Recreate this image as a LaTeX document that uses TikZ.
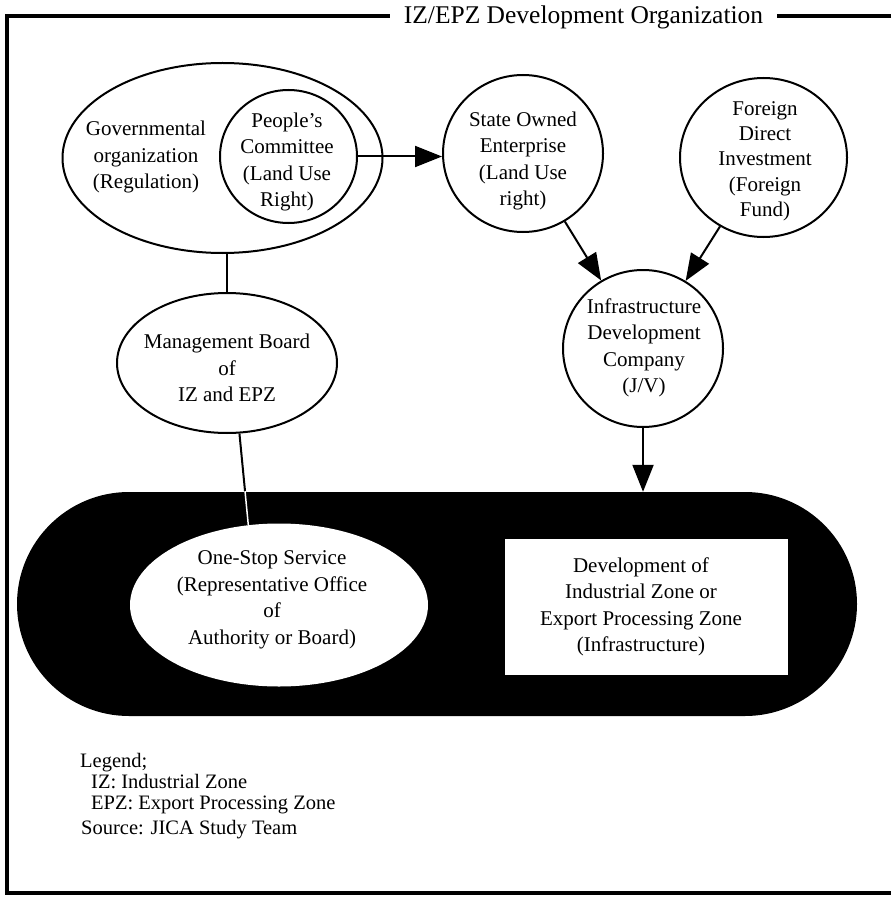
\documentclass[tikz,border=0pt]{standalone}
\usepackage{fontspec}
\setmainfont{Liberation Serif}
\usetikzlibrary{shapes.geometric,shapes.misc,arrows.meta,calc}
\pgfdeclarelayer{bg}
\pgfsetlayers{bg,main}
\begin{document}
\begin{tikzpicture}[x=1pt,y=-1pt,
  bubble/.style={draw, line width=2pt, ellipse, inner sep=0pt},
  txt/.style={align=center, inner sep=0pt, font=\fontsize{21}{26.5}\selectfont},
  legendtxt/.style={anchor=base west, inner sep=0pt, font=\fontsize{20.5}{24}\selectfont},
  arr/.style={line width=2pt, -{Triangle[length=27pt,width=21pt]}},
  conn/.style={line width=2pt}
]
\useasboundingbox (0,0) rectangle (891,901);

% frame
\draw[line width=4.5pt] (891,16) -- (7,16) -- (7,893) -- (891,893);
\node[fill=white, inner xsep=14pt, inner ysep=3pt, anchor=base,
      font=\fontsize{25.5}{30}\selectfont] (title) at (583.5,24) {IZ/EPZ Development Organization};

% top row
\node[bubble, minimum width=320pt, minimum height=190pt] (gov) at (222.5,158) {};
\node[txt] (govt) at (146,157) {Governmental\\organization\\(Regulation)};
\node[bubble, minimum width=137pt, minimum height=133pt] (pc) at (288.5,156.5) {};
\node[txt] (pct) at (287,162) {People's\\Committee\\(Land Use\\Right)};
\node[bubble, minimum width=160pt, minimum height=157pt] (soe) at (523,153.5) {};
\node[txt] (soet) at (523,161) {State Owned\\Enterprise\\(Land Use\\right)};
\node[bubble, minimum width=167pt, minimum height=159pt] (fdi) at (763.5,157.5) {};
\node[txt, font=\fontsize{21}{25.3}\selectfont] (fdit) at (765,161) {Foreign\\Direct\\Investment\\(Foreign\\Fund)};

% middle row
\node[bubble, minimum width=160pt, minimum height=157pt] (idc) at (643,348.5) {};
\node[txt] (idct) at (644,348) {Infrastructure\\Development\\Company\\(J/V)};
\node[bubble, minimum width=220pt, minimum height=140pt] (mgmt) at (227,363) {};
\node[txt] (mgmtt) at (227,368) {Management Board\\of\\IZ and EPZ};

% zone
\node[rounded rectangle, fill=black, minimum width=840pt, minimum height=224pt, inner sep=0pt] (zone) at (437,604) {};
\node[ellipse, fill=white, minimum width=298pt, minimum height=163pt, inner sep=0pt] (onestop) at (279,605) {};
\node[txt] (onestopt) at (272,600) {One-Stop Service\\(Representative Office\\of\\Authority or Board)};
\node[rectangle, fill=white, minimum width=283pt, minimum height=136pt, inner sep=0pt] (devbox) at (646.5,607) {};
\node[txt] (devt) at (641,607) {Development of\\Industrial Zone or\\Export Processing Zone\\(Infrastructure)};

% connectors
\draw[conn] (gov.south -| mgmt.north) -- (mgmt.north);
\draw[arr] (pc.east) -- (pc.east -| soe.west);
\draw[arr] (soe) -- (idc);
\draw[arr] (fdi) -- (idc);
\draw[arr] (idc.south) -- (idc.south |- zone.north);
\begin{pgfonlayer}{bg}
\draw[conn] (mgmt.-80) -- (onestop.111);
\end{pgfonlayer}
\begin{scope}
\clip (zone.south west) rectangle (zone.north east);
\draw[conn, white, line width=1.5pt] (mgmt.-80) -- (onestop.111);
\end{scope}

% legend
\node[legendtxt] (leg) at (80,767) {Legend;};
\node[legendtxt] (leg1) at (91,788) {IZ: Industrial Zone};
\node[legendtxt] (leg2) at (91,809) {EPZ: Export Processing Zone};
\node[legendtxt] (src) at (81,834) {Source: JICA Study Team};
\end{tikzpicture}
\end{document}
